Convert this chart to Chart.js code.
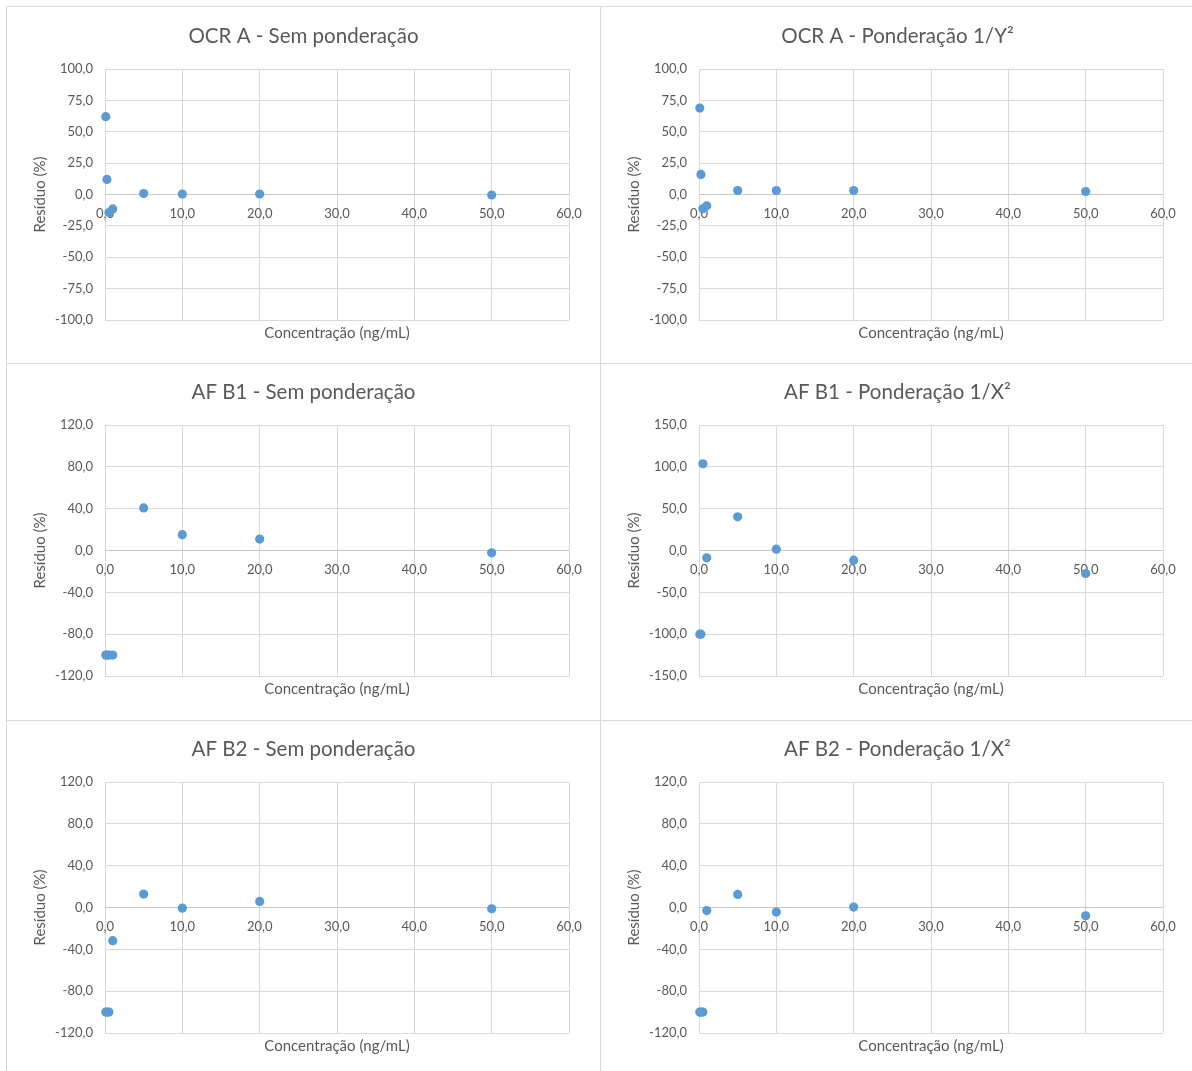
<!DOCTYPE html>
<html lang="pt">
<head>
<meta charset="utf-8">
<title>Resíduos das curvas de calibração</title>
<script src="https://cdn.jsdelivr.net/npm/chart.js@4.4.1/dist/chart.umd.min.js"></script>
<style>
  html, body { margin: 0; padding: 0; background: #fff; }
  body { position: relative; width: 1192px; height: 1071px; overflow: hidden; }
  .moldura { position: absolute; box-sizing: border-box; border: 1px solid #d9d9d9; }
  canvas { position: absolute; }
</style>
</head>
<body>
<!-- molduras dos seis gráficos -->
<div class="moldura" style="left:6px;top:6px;width:595px;height:358px"></div>
<div class="moldura" style="left:600px;top:6px;width:620px;height:358px"></div>
<div class="moldura" style="left:6px;top:363px;width:595px;height:358px"></div>
<div class="moldura" style="left:600px;top:363px;width:620px;height:358px"></div>
<div class="moldura" style="left:6px;top:720px;width:595px;height:400px"></div>
<div class="moldura" style="left:600px;top:720px;width:620px;height:400px"></div>

<script>
// Níveis de concentração da curva (ng/mL)
const concentracoes = [0.1, 0.25, 0.5, 1, 5, 10, 20, 50];

// Resíduos (%) por nível de concentração
const residuoOcrASem  = [62.0, 12.0, -14.4, -11.5, 0.8, 0.4, 0.4, -0.4];
const residuoOcrAPond = [68.9, 16.0, -11.4, -9.0, 3.2, 3.2, 3.2, 2.4];
const residuoB1Sem    = [-100, -100, -100, -100, 40.7, 15.1, 10.9, -2.2];
const residuoB1Pond   = [-100, -100, 103.7, -8.7, 40.3, 1.6, -11.6, -27.5];
const residuoB2Sem    = [-100, -100, -100, -31.7, 12.8, -0.6, 5.8, -1.2];
const residuoB2Pond   = [-100, -100, -100, -2.9, 12.5, -4.4, 0.4, -7.9];

// Eixo das concentrações
const eixoXMin = 0, eixoXMax = 60, eixoXPasso = 10;

// Escalas dos resíduos [mínimo, máximo, passo]
const escalaOcr    = [-100, 100, 25];
const escalaB1Sem  = [-120, 120, 40];
const escalaB1Pond = [-150, 150, 50];
const escalaB2     = [-120, 120, 40];

const titulos = [
  'OCR A - Sem ponderação',
  'OCR A - Ponderação 1/Y²',
  'AF B1 - Sem ponderação',
  'AF B1 - Ponderação 1/X²',
  'AF B2 - Sem ponderação',
  'AF B2 - Ponderação 1/X²'
];
const series  = [residuoOcrASem, residuoOcrAPond, residuoB1Sem, residuoB1Pond, residuoB2Sem, residuoB2Pond];
const escalas = [escalaOcr, escalaOcr, escalaB1Sem, escalaB1Pond, escalaB2, escalaB2];

const tituloEixoX = 'Concentração (ng/mL)';
const tituloEixoY = 'Resíduo (%)';

const FONTE = 'Lato, "Open Sans", sans-serif';
const CINZA_TEXTO = '#595959';
const CINZA_GRADE = '#d9d9d9';
const AZUL = '#5B9BD5';

const formatar = v => Number(v).toFixed(1).replace('.', ',');

const colunas = [7, 601];
const linhas = [7, 363, 720];
const LARG = 593, ALT = 356;

titulos.forEach((titulo, i) => {
  const canvas = document.createElement('canvas');
  canvas.width = LARG;
  canvas.height = ALT;
  canvas.style.left = colunas[i % 2] + 'px';
  canvas.style.top = linhas[Math.floor(i / 2)] + 'px';
  document.body.appendChild(canvas);

  const [yMin, yMax, yPasso] = escalas[i];
  const pontos = concentracoes.map((c, k) => ({ x: c, y: series[i][k] }));

  new Chart(canvas, {
    type: 'scatter',
    data: {
      datasets: [{
        data: pontos,
        backgroundColor: AZUL,
        borderColor: AZUL,
        pointRadius: 4.6,
        pointHoverRadius: 4.6,
        borderWidth: 0,
        clip: false
      }]
    },
    options: {
      responsive: false,
      animation: false,
      devicePixelRatio: 1,
      layout: { padding: 0 },
      plugins: {
        legend: { display: false },
        tooltip: { enabled: false },
        title: {
          display: true,
          text: titulo,
          color: CINZA_TEXTO,
          font: { family: FONTE, size: 20.5, weight: 'normal' },
          padding: { top: 17, bottom: 20.4 }
        }
      },
      scales: {
        x: {
          type: 'linear',
          position: 'bottom',
          min: eixoXMin, max: eixoXMax,
          ticks: { display: false, stepSize: eixoXPasso },
          grid: { color: CINZA_GRADE, drawTicks: false, lineWidth: 1 },
          border: { display: false },
          title: {
            display: true,
            text: tituloEixoX,
            color: CINZA_TEXTO,
            font: { family: FONTE, size: 15 },
            padding: { top: 4, bottom: 21 }
          },
          afterFit(s) { s.height = 43; }
        },
        y: {
          type: 'linear',
          position: 'left',
          min: yMin, max: yMax,
          ticks: {
            stepSize: yPasso,
            color: CINZA_TEXTO,
            font: { family: FONTE, size: 13 },
            padding: 12,
            callback: v => formatar(v)
          },
          grid: {
            color: ctx => (ctx.tick && ctx.tick.value === 0) ? '#c8c8c8' : CINZA_GRADE,
            drawTicks: false,
            lineWidth: 1
          },
          border: { display: false },
          title: {
            display: true,
            text: tituloEixoY,
            color: CINZA_TEXTO,
            font: { family: FONTE, size: 15 },
            padding: { top: 24, bottom: 0 }
          },
          afterFit(s) { s.width = 98; }
        },
        // rótulos das concentrações sobre a linha do zero
        xZero: {
          type: 'linear',
          axis: 'x',
          position: { y: 0 },
          min: eixoXMin, max: eixoXMax,
          ticks: {
            stepSize: eixoXPasso,
            color: CINZA_TEXTO,
            font: { family: FONTE, size: 13 },
            padding: 12,
            maxRotation: 0,
            callback: v => formatar(v)
          },
          grid: { display: false, drawTicks: false },
          border: { display: false }
        },
        // margem à direita da área de plotagem
        yDireita: {
          type: 'linear',
          position: 'right',
          min: yMin, max: yMax,
          ticks: { display: false },
          grid: { display: false, drawTicks: false },
          border: { display: false },
          afterFit(s) { s.width = 31; }
        }
      }
    }
  });
});
</script>
</body>
</html>
